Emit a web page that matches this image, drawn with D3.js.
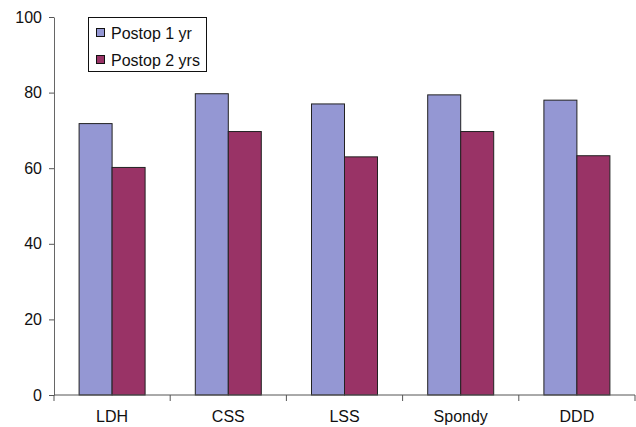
<!DOCTYPE html>
<html><head><meta charset="utf-8">
<script src="https://cdn.jsdelivr.net/npm/d3@7"></script>
<style>body{margin:0;background:#fff}svg{display:block}text{font-family:"Liberation Sans",Arial,sans-serif}</style>
</head><body>
<svg id="c" width="636" height="427"></svg>
<script>
const categories = ["LDH","CSS","LSS","Spondy","DDD"];
const seriesNames = ["Postop 1 yr","Postop 2 yrs"];
const postop1 = [71.8, 79.7, 77.0, 79.4, 78.0];
const postop2 = [60.2, 69.7, 63.0, 69.7, 63.3];
const yTicks = [0,20,40,60,80,100];
const colors = ["#9497d3","#993366"];

const svg = d3.select("#c");
const m = {l:54, r:1, t:17, b:32};
const W = 636, H = 427;
const x = d3.scaleBand().domain(categories).range([m.l, W-m.r]).paddingInner(0).paddingOuter(0);
const xs = d3.scaleBand().domain([0,1]).range([0, 66]);
const y = d3.scaleLinear().domain([0,100]).range([H-m.b, m.t]);

const series = [postop1, postop2];
categories.forEach((c,i)=>{
  const g = svg.append("g").attr("transform",`translate(${x(c)+x.bandwidth()/2-33},0)`);
  series.forEach((s,j)=>{
    g.append("rect").attr("x",xs(j)).attr("y",y(s[i])).attr("width",xs.bandwidth()).attr("height",y(0)-y(s[i]))
      .attr("fill",colors[j]).attr("stroke","#222").attr("stroke-width",1);
  });
});

const yAxis = d3.axisLeft(y).tickValues(yTicks).tickSize(5).tickPadding(7).tickSizeOuter(0);
const gy = svg.append("g").attr("transform",`translate(${m.l},0)`).call(yAxis);
gy.selectAll("text").attr("font-size",16).attr("fill","#111").attr("font-family","'Liberation Sans',Arial,sans-serif");
gy.select(".domain").attr("stroke","#666");
gy.selectAll(".tick line").attr("stroke","#555");

const gx = svg.append("g").attr("transform",`translate(0,${y(0)})`);
gx.append("line").attr("x1",m.l).attr("x2",W-m.r).attr("stroke","#555");
const bounds = categories.map(c=>x(c)).concat([x(categories[categories.length-1])+x.bandwidth()]);
gx.selectAll("line.t").data(bounds).join("line").attr("class","t")
  .attr("x1",d=>d).attr("x2",d=>d).attr("y1",0).attr("y2",6).attr("stroke","#555");
gx.selectAll("text").data(categories).join("text")
  .attr("x",d=>x(d)+x.bandwidth()/2).attr("y",27).attr("text-anchor","middle")
  .attr("font-size",16).attr("fill","#111").text(d=>d);

const lg = svg.append("g").attr("transform","translate(88,17)");
lg.append("rect").attr("x",0.5).attr("y",0.5).attr("width",118).attr("height",54).attr("fill","#fff").attr("stroke","#111");
seriesNames.forEach((n,j)=>{
  lg.append("rect").attr("x",8.5).attr("y",11.5+j*27).attr("width",8).attr("height",8).attr("fill",colors[j]).attr("stroke","#111");
  lg.append("text").attr("x",23).attr("y",21.5+j*27).attr("font-size",16).attr("fill","#111").text(n);
});
</script>
</body></html>
